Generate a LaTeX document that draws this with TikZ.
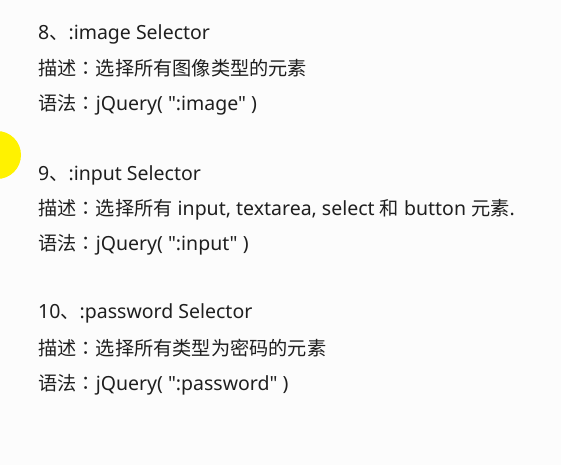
\documentclass[tikz,border=0pt]{standalone}
\usepackage{fontspec}
\setmainfont{Noto Sans}[Ligatures=TeXOff]
\newfontfamily\cjkfont{Noto Sans CJK SC}
\newfontfamily\tcfont{Noto Sans CJK TC}
\newcommand\zh[1]{{\cjkfont\fontsize{19.2}{22}\selectfont #1}}
\newcommand\fcolon{{\tcfont\fontsize{19.2}{22}\selectfont ：}}
\begin{document}
\begin{tikzpicture}[x=1pt,y=-1pt,
  txt/.style={anchor=base west,inner sep=0pt,font=\fontsize{19.5}{22}\selectfont,text=black!88}]
\useasboundingbox (0,0) rectangle (561,465);
\fill[white!99!black] (0,0) rectangle (561,465);
\fill[yellow] (-3,155) circle (24);
\node[txt] (l1) at (38,40) {8\zh{、}:image Selector};
\node[txt] (l2) at (38,75.5) {\zh{描述}\fcolon\zh{选择所有图像类型的元素}};
\node[txt] (l3) at (38,110.5) {\zh{语法}\fcolon jQuery( ":image" )};
\node[txt] (l4) at (38,180) {9\zh{、}:input Selector};
\node[txt] (l5) at (38,215.5) {\zh{描述}\fcolon\zh{选择所有} input, textarea, select \zh{和} button \zh{元素}.};
\node[txt] (l6) at (38,250.5) {\zh{语法}\fcolon jQuery( ":input" )};
\node[txt] (l7) at (38,318) {10\zh{、}:password Selector};
\node[txt] (l8) at (38,355.5) {\zh{描述}\fcolon\zh{选择所有类型为密码的元素}};
\node[txt] (l9) at (38,390.5) {\zh{语法}\fcolon jQuery( ":password" )};
\end{tikzpicture}
\end{document}
